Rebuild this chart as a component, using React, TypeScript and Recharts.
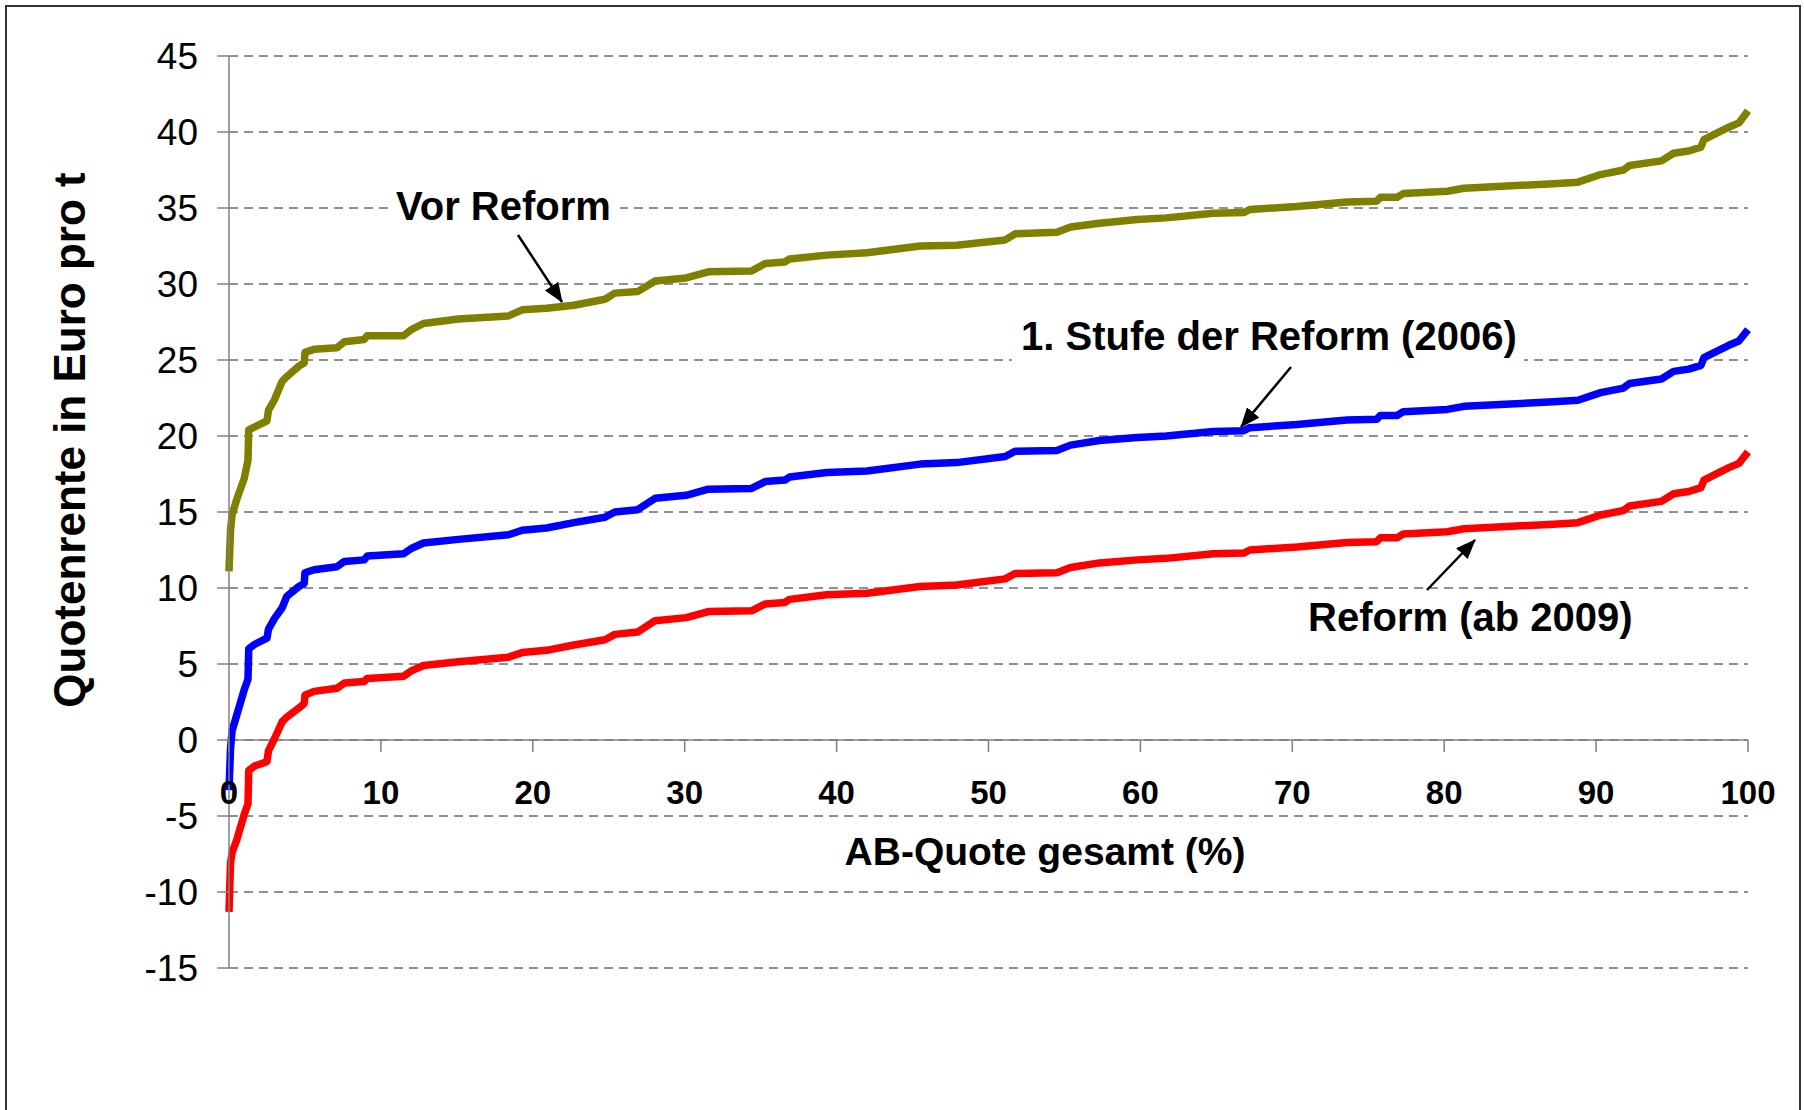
import React from 'react'
import { LineChart, Line, XAxis, YAxis, CartesianGrid, ReferenceLine } from 'recharts'

// AB-Quote gesamt (%), shared x positions
const XS = [
  0, 0.1, 0.2, 0.5, 1.0, 1.25, 1.3, 1.7, 2.3, 2.5, 2.6, 3.0, 3.5, 3.8, 4.6, 4.95, 5.0, 5.6, 7.1, 7.6,
  8.9, 9.1, 11.5, 12.0, 12.8, 15.1, 18.4, 19.3, 20.9, 22.7, 24.75, 25.4, 26.9, 28.05, 30.1, 31.55, 34.4, 35.3, 36.6, 36.9,
  39.35, 42.0, 45.5, 47.9, 51.1, 51.75, 54.5, 55.4, 57.3, 59.8, 61.7, 64.8, 66.8, 67.2, 70.3, 73.6, 75.55, 75.8, 76.9, 77.3,
  80.2, 81.3, 87.2, 88.8, 90.3, 91.8, 92.2, 94.3, 95.1, 96.1, 96.9, 97.1, 98.7, 99.4, 100,
]

const VOR_REFORM = [
  11.1, 13.8, 14.8, 15.8, 17.2, 18.4, 20.4, 20.6, 20.9, 21.0, 21.7, 22.4, 23.6, 23.9, 24.6, 24.8, 25.5, 25.7, 25.8, 26.2,
  26.35, 26.6, 26.6, 27.0, 27.4, 27.7, 27.9, 28.3, 28.4, 28.6, 29.0, 29.4, 29.5, 30.2, 30.4, 30.8, 30.85, 31.35, 31.45, 31.65,
  31.9, 32.05, 32.5, 32.55, 32.9, 33.3, 33.4, 33.75, 34.0, 34.25, 34.35, 34.65, 34.7, 34.9, 35.1, 35.4, 35.45, 35.7, 35.7, 35.95,
  36.1, 36.3, 36.6, 36.7, 37.2, 37.5, 37.8, 38.1, 38.6, 38.75, 39.0, 39.5, 40.3, 40.6, 41.4,
]

const STUFE_2006 = [
  -3.3, -0.6, 0.6, 1.6, 3.3, 4.0, 6.0, 6.3, 6.6, 6.7, 7.3, 8.0, 8.7, 9.45, 10.1, 10.3, 11.0, 11.2, 11.4, 11.75,
  11.85, 12.1, 12.25, 12.6, 12.96, 13.2, 13.5, 13.8, 13.95, 14.3, 14.65, 15.0, 15.15, 15.9, 16.1, 16.5, 16.55, 17.0, 17.1, 17.3,
  17.6, 17.7, 18.15, 18.25, 18.65, 19.0, 19.05, 19.4, 19.7, 19.9, 20.0, 20.3, 20.35, 20.55, 20.75, 21.05, 21.1, 21.35, 21.35, 21.6,
  21.75, 21.95, 22.25, 22.35, 22.85, 23.15, 23.45, 23.75, 24.25, 24.4, 24.65, 25.15, 25.95, 26.25, 27.0,
]

const REFORM_2009 = [
  -11.3, -8.1, -7.4, -6.6, -4.9, -4.2, -2.0, -1.7, -1.5, -1.4, -0.7, 0.1, 1.2, 1.5, 2.1, 2.4, 2.95, 3.2, 3.4, 3.75,
  3.85, 4.05, 4.2, 4.55, 4.9, 5.15, 5.45, 5.75, 5.9, 6.25, 6.6, 6.95, 7.1, 7.85, 8.05, 8.45, 8.5, 8.95, 9.05, 9.25,
  9.55, 9.65, 10.1, 10.2, 10.6, 10.95, 11.0, 11.35, 11.65, 11.85, 11.95, 12.25, 12.3, 12.5, 12.7, 13.0, 13.05, 13.3, 13.3, 13.55,
  13.7, 13.9, 14.2, 14.3, 14.8, 15.1, 15.4, 15.7, 16.2, 16.35, 16.6, 17.1, 17.9, 18.2, 18.95,
]

const X_TICKS = [0, 10, 20, 30, 40, 50, 60, 70, 80, 90, 100]
const Y_TICKS = [-15, -10, -5, 0, 5, 10, 15, 20, 25, 30, 35, 40, 45]

const W = 1804
const H = 1110
const PLOT_TOP = 56
const PLOT_BOTTOM = 968
const X_AXIS_H = 30
const Y_MIN = -15
const Y_MAX = 45
// pixel row of the value 0, where the x axis sits
const AXIS_Y = PLOT_TOP + ((PLOT_BOTTOM - PLOT_TOP) * Y_MAX) / (Y_MAX - Y_MIN)

const FONT = "'Liberation Sans', Arial, sans-serif"
const AXIS_GREY = '#808080'
const LINE_W = 7.5
const NOTE_SIZE = 40

const rows = XS.map((x, i) => ({
  x,
  vor: VOR_REFORM[i],
  stufe: STUFE_2006[i],
  reform: REFORM_2009[i],
}))

// x ticks hang off the zero line, not off the bottom of the plot
function XTick(props: any) {
  const { x, payload } = props
  if (x == null || !payload) return null
  return (
    <g>
      <line x1={x} x2={x} y1={AXIS_Y} y2={AXIS_Y + 12} stroke={AXIS_GREY} strokeWidth={1.5} />
      <text x={x} y={AXIS_Y + 64} textAnchor="middle" fontFamily={FONT} fontWeight="bold" fontSize={33} fill="#000">
        {payload.value}
      </text>
    </g>
  )
}

function YTick(props: any) {
  const { x, y, payload } = props
  if (x == null || y == null || !payload) return null
  return (
    <text x={x - 17} y={y + 13} textAnchor="end" fontFamily={FONT} fontSize={37} fill="#000">
      {payload.value}
    </text>
  )
}

export default function App() {
  return (
    <div style={{ position: 'absolute', left: 0, top: 0, width: W, height: H, background: '#fff' }}>
      <LineChart
        width={W}
        height={H}
        data={rows}
        margin={{ top: PLOT_TOP, right: 56, bottom: H - PLOT_BOTTOM - X_AXIS_H, left: 0 }}
      >
        <CartesianGrid vertical={false} stroke="#222" strokeWidth={1} strokeDasharray="9 6" />
        <XAxis
          dataKey="x"
          type="number"
          domain={[0, 100]}
          ticks={X_TICKS}
          interval={0}
          height={X_AXIS_H}
          axisLine={false}
          tickLine={false}
          tick={XTick}
        />
        <YAxis
          type="number"
          domain={[Y_MIN, Y_MAX]}
          ticks={Y_TICKS}
          interval={0}
          width={229}
          tickSize={12}
          axisLine={{ stroke: AXIS_GREY, strokeWidth: 1.5 }}
          tickLine={{ stroke: AXIS_GREY, strokeWidth: 1.5 }}
          tick={YTick}
        />
        <ReferenceLine y={0} stroke={AXIS_GREY} strokeWidth={1.5} />
        <Line type="linear" dataKey="vor" stroke="#808000" strokeWidth={LINE_W} dot={false} isAnimationActive={false} strokeLinejoin="round" />
        <Line type="linear" dataKey="stufe" stroke="#0000ff" strokeWidth={LINE_W} dot={false} isAnimationActive={false} strokeLinejoin="round" />
        <Line type="linear" dataKey="reform" stroke="#ff0000" strokeWidth={LINE_W} dot={false} isAnimationActive={false} strokeLinejoin="round" />
      </LineChart>

      {/* frame, titles and the callouts */}
      <svg width={W} height={H} style={{ position: 'absolute', left: 0, top: 0, pointerEvents: 'none' }}>
        <defs>
          <marker id="head" markerUnits="userSpaceOnUse" markerWidth={20} markerHeight={16} refX={19} refY={8} orient="auto">
            <path d="M0,0 L20,8 L0,16 Z" fill="#000" />
          </marker>
        </defs>
        <rect x={6} y={6} width={1794} height={1120} fill="none" stroke="#333" strokeWidth={2} />

        <text
          transform="translate(85,440) rotate(-90)"
          textAnchor="middle"
          fontFamily={FONT}
          fontWeight="bold"
          fontSize={44}
          fill="#000"
        >
          Quotenrente in Euro pro t
        </text>
        <text x={1045} y={865} textAnchor="middle" fontFamily={FONT} fontWeight="bold" fontSize={39} fill="#000">
          AB-Quote gesamt (%)
        </text>

        <rect x={388} y={186} width={232} height={42} fill="#fff" />
        <text x={396} y={220} fontFamily={FONT} fontWeight="bold" fontSize={NOTE_SIZE} fill="#000">
          Vor Reform
        </text>
        <line x1={518} y1={235} x2={562} y2={302} stroke="#000" strokeWidth={2.5} markerEnd="url(#head)" />

        <rect x={1012} y={312} width={512} height={54} fill="#fff" />
        <text x={1021} y={350} fontFamily={FONT} fontWeight="bold" fontSize={NOTE_SIZE} fill="#000">
          1. Stufe der Reform (2006)
        </text>
        <line x1={1291} y1={367} x2={1241} y2={427} stroke="#000" strokeWidth={2.5} markerEnd="url(#head)" />

        <text x={1308} y={631} fontFamily={FONT} fontWeight="bold" fontSize={NOTE_SIZE} fill="#000">
          Reform (ab 2009)
        </text>
        <line x1={1427} y1={590} x2={1475} y2={540} stroke="#000" strokeWidth={2.5} markerEnd="url(#head)" />
      </svg>
    </div>
  )
}
